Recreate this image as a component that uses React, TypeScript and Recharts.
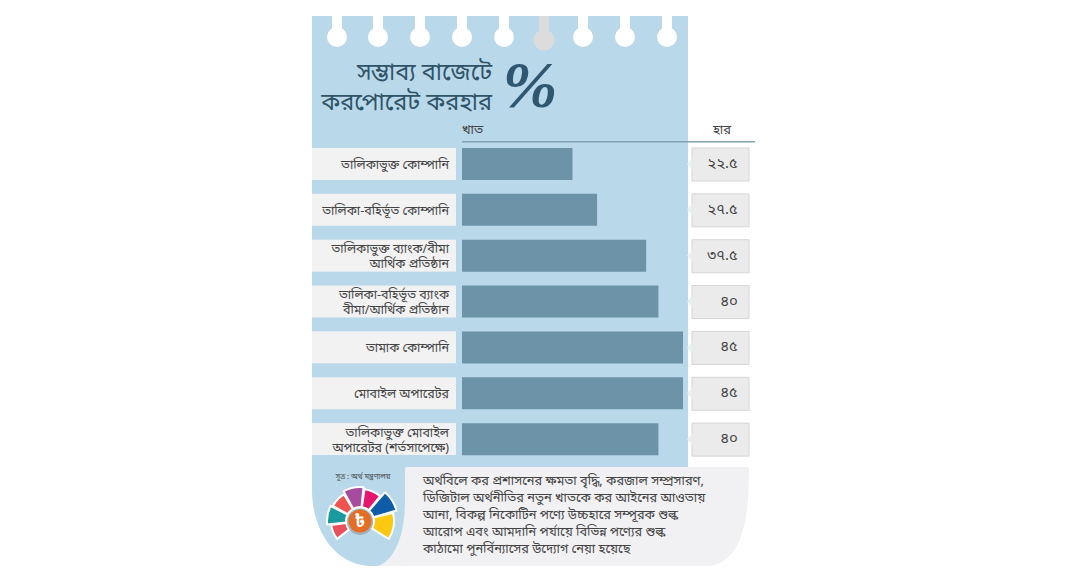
import { Bar, BarChart, LabelList, XAxis, YAxis } from "recharts";

const categories = [
  "তালিকাভুক্ত কোম্পানি",
  "তালিকা-বহির্ভূত কোম্পানি",
  "তালিকাভুক্ত ব্যাংক/বীমা\nআর্থিক প্রতিষ্ঠান",
  "তালিকা-বহির্ভূত ব্যাংক\nবীমা/আর্থিক প্রতিষ্ঠান",
  "তামাক কোম্পানি",
  "মোবাইল অপারেটর",
  "তালিকাভুক্ত মোবাইল\nঅপারেটর (শর্তসাপেক্ষে)",
];
const rates = [22.5, 27.5, 37.5, 40, 45, 45, 40];
const rateLabels = ["২২.৫", "২৭.৫", "৩৭.৫", "৪০", "৪৫", "৪৫", "৪০"];
const noteLines = [
  "অর্থবিলে কর প্রশাসনের ক্ষমতা বৃদ্ধি, করজাল সম্প্রসারণ,",
  "ডিজিটাল অর্থনীতির নতুন খাতকে কর আইনের আওতায়",
  "আনা, বিকল্প নিকোটিন পণ্যে উচ্চহারে সম্পূরক শুল্ক",
  "আরোপ এবং আমদানি পর্যায়ে বিভিন্ন পণ্যের শুল্ক",
  "কাঠামো পুনর্বিন্যাসের উদ্যোগ নেয়া হয়েছে",
];
const holes = [337, 378, 420, 462, 504, 583, 625, 667];
const logoSegments = [
  { from: 232, to: 262, r: 29, color: "#e8505b" },
  { from: 264, to: 297, r: 33, color: "#1a9a9c" },
  { from: 299, to: 329, r: 31, color: "#ef5350" },
  { from: 331, to: 6, r: 34, color: "#a64b9d" },
  { from: 8, to: 39, r: 32, color: "#e6166f" },
  { from: 41, to: 74, r: 38, color: "#0e5ca8" },
  { from: 76, to: 122, r: 34, color: "#fcc812" },
];

const data = categories.map((name, i) => ({
  name,
  rate: rates[i],
  label: rateLabels[i],
}));

const FONT = "'Noto Sans Bengali', 'Noto Sans', 'DejaVu Sans', sans-serif";
const LOGO_X = 360;
const LOGO_Y = 521;

function segmentPath(from: number, to: number, r: number) {
  const inner = 14;
  const end = to < from ? to + 360 : to;
  const pt = (a: number, rad: number) => {
    const t = ((a - 90) * Math.PI) / 180;
    return `${LOGO_X + rad * Math.cos(t)} ${LOGO_Y + rad * Math.sin(t)}`;
  };
  return `M${pt(from, inner)} L${pt(from, r)} A${r} ${r} 0 0 1 ${pt(end, r)} L${pt(end, inner)} A${inner} ${inner} 0 0 0 ${pt(from, inner)} Z`;
}

function CategoryTick({ y, payload }: any) {
  const lines = String(payload.value).split("\n");
  return (
    <g>
      <rect x={312} y={y - 16} width={144} height={32} fill="#f2f2f3" />
      {lines.map((line, i) => (
        <text
          key={i}
          x={449}
          y={y + 5 + (i - (lines.length - 1) / 2) * 15}
          textAnchor="end"
          fontSize={12.5}
          fontFamily={FONT}
          fill="#444"
        >
          {line}
        </text>
      ))}
    </g>
  );
}

function RateBox({ y, height, value }: any) {
  const mid = y + height / 2;
  return (
    <g>
      <rect x={692} y={y} width={57} height={height + 1} fill="#ebebec" stroke="#d6d6d6" />
      <path d={`M692.5 ${mid - 6} L687 ${mid} L692.5 ${mid + 6} Z`} fill="#ebeff1" />
      <text
        x={738}
        y={mid + 4}
        textAnchor="end"
        fontSize={15}
        fontFamily={FONT}
        fill="#444"
      >
        {value}
      </text>
    </g>
  );
}

export default function App() {
  return (
    <div style={{ position: "absolute", left: 0, top: 0, width: 1067, height: 585, background: "#fff" }}>
      {/* paper, holes, title and note sit behind the chart */}
      <svg width={1067} height={585} style={{ position: "absolute", left: 0, top: 0 }}>
        <path
          d="M312 16 H688 V467 H420 V566 H372 C335 566 312 530 312 490 Z"
          fill="#b9d8ea"
        />
        {holes.map((x) => (
          <g key={x} fill="#fff">
            <rect x={x - 5} y={16} width={10} height={20} />
            <circle cx={x} cy={37} r={10} />
          </g>
        ))}
        <g fill="#dcdcdc">
          <rect x={539} y={16} width={10} height={24} />
          <circle cx={544} cy={40} r={10.5} />
        </g>
        <g fontFamily={FONT} fill="#2f5468" fontSize={23.5} textAnchor="end">
          <text x={492} y={80}>সম্ভাব্য বাজেটে</text>
          <text x={492} y={110}>করপোরেট করহার</text>
        </g>
        <text
          x={530}
          y={107}
          fontFamily="'Liberation Serif', serif"
          fontStyle="italic"
          fontWeight={700}
          fontSize={66}
          fill="#2f5870"
          textAnchor="middle"
        >
          %
        </text>
        <text x={462} y={134} fontFamily={FONT} fontSize={13} fill="#444">খাত</text>
        <text x={722} y={134} fontFamily={FONT} fontSize={13} fill="#444" textAnchor="middle">হার</text>
        <rect x={462} y={141} width={293} height={1.5} fill="#84a0ae" />

        <path
          d="M407 467 H749 C749 510 745 545 725 560 C718 565 712 566 705 566 H378 C395 560 405 535 405 500 V469 Q405 467 407 467 Z"
          fill="#f1f1f3"
        />
        {noteLines.map((line, i) => (
          <text key={i} x={423} y={485 + i * 17} fontFamily={FONT} fontSize={12.8} fill="#444">
            {line}
          </text>
        ))}
        <text x={363} y={479} fontFamily={FONT} fontSize={7.5} fill="#4a4a4a" textAnchor="middle">
          সূত্র : অর্থ মন্ত্রণালয়
        </text>

        {logoSegments.map((s) => (
          <path
            key={s.color + s.from}
            d={segmentPath(s.from, s.to, s.r)}
            fill={s.color}
            stroke="#fff"
            strokeWidth={2}
            strokeLinejoin="round"
          />
        ))}
        <circle cx={LOGO_X} cy={LOGO_Y + 1} r={13} fill="#8a8f92" opacity={0.5} />
        <circle cx={LOGO_X} cy={LOGO_Y} r={11.5} fill="#e36f26" />
        <text x={LOGO_X} y={LOGO_Y + 6} fontFamily={FONT} fontSize={17} fontWeight={700} fill="#fff" textAnchor="middle">
          ৳
        </text>
      </svg>

      <div style={{ position: "absolute", left: 0, top: 0 }}>
        <BarChart
          width={1067}
          height={585}
          data={data}
          layout="vertical"
          margin={{ top: 141, right: 384, bottom: 123, left: 362 }}
          style={{ background: "transparent" }}
        >
          <XAxis type="number" domain={[0, 45]} hide />
          <YAxis
            type="category"
            dataKey="name"
            width={100}
            axisLine={false}
            tickLine={false}
            interval={0}
            tick={<CategoryTick />}
          />
          <Bar dataKey="rate" fill="#6c93a8" barSize={32} isAnimationActive={false}>
            <LabelList dataKey="label" content={<RateBox />} />
          </Bar>
        </BarChart>
      </div>
    </div>
  );
}
